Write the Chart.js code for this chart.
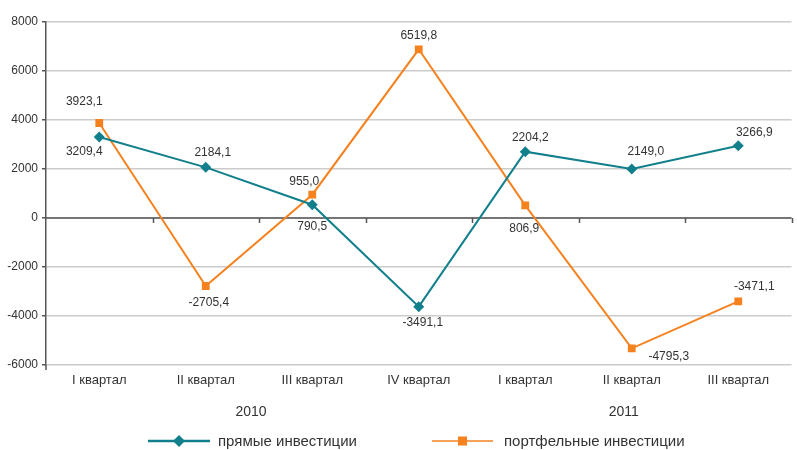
<!DOCTYPE html>
<html>
<head>
<meta charset="utf-8">
<script src="https://cdn.jsdelivr.net/npm/chart.js@4.4.1/dist/chart.umd.min.js"></script>
<style>
  html, body { margin: 0; padding: 0; background: #fff; }
  #wrap { width: 797px; height: 450px; }
</style>
</head>
<body>
<div id="wrap"><canvas id="grafico" width="797" height="450"></canvas></div>
<script>
// данные
const kvartaly = ['I квартал', 'II квартал', 'III квартал', 'IV квартал', 'I квартал', 'II квартал', 'III квартал'];
const gody = ['2010', '2011'];
const kvartalovVGodu = [4, 3];
const pryamye = [3306, 2068, 543, -3620, 2707, 2000, 2951];
const portfelnye = [3878, -2776, 951, 6886, 518, -5318, -3400];
const podpisiPryamye = ['3209,4', '2184,1', '790,5', '-3491,1', '2204,2', '2149,0', '3266,9'];
const podpisiPortfelnye = ['3923,1', '-2705,4', '955,0', '6519,8', '806,9', '-4795,3', '-3471,1'];

// смещения подписей (пиксели)
const smescheniyaPryamye = [[-15, 15], [7, -15], [0, 22], [4, 16], [5, -14], [14, -17], [16, -13]];
const smescheniyaPortfelnye = [[-15, -21], [3, 17], [-8, -13], [0, -14], [-1, 23], [37, 8], [16, -15]];

const TEAL = '#12808c';
const ORANGE = '#f5821f';
const TEXT = '#333333';
const FONT = '"Liberation Sans", Arial, sans-serif';

const podpisiPlugin = {
    id: 'podpisi',
    afterDatasetsDraw(chart) {
        const ctx = chart.ctx;
        ctx.save();
        ctx.font = '12px ' + FONT;
        ctx.fillStyle = TEXT;
        ctx.textAlign = 'center';
        ctx.textBaseline = 'middle';
        const nabory = [[podpisiPryamye, smescheniyaPryamye], [podpisiPortfelnye, smescheniyaPortfelnye]];
        nabory.forEach((n, di) => {
            const meta = chart.getDatasetMeta(di);
            meta.data.forEach((pt, i) => {
                ctx.fillText(n[0][i], pt.x + n[1][i][0], pt.y + n[1][i][1]);
            });
        });
        ctx.restore();
    }
};

const osiPlugin = {
    id: 'osi',
    beforeDatasetsDraw(chart) {
        const ctx = chart.ctx;
        const area = chart.chartArea;
        const y0 = chart.scales.y.getPixelForValue(0);
        ctx.save();
        // ось категорий на нуле
        ctx.strokeStyle = '#555555';
        ctx.lineWidth = 1.5;
        ctx.beginPath();
        ctx.moveTo(area.left, y0);
        ctx.lineTo(area.right, y0);
        const w = (area.right - area.left) / kvartaly.length;
        for (let i = 1; i <= kvartaly.length; i++) {
            const x = Math.round(area.left + w * i) + 0.5;
            ctx.moveTo(x, y0);
            ctx.lineTo(x, y0 + 5);
        }
        // продолжение оси Y вниз
        ctx.moveTo(area.left, area.bottom);
        ctx.lineTo(area.left, area.bottom + 5);
        ctx.stroke();
        ctx.restore();
    },
    afterDraw(chart) {
        const ctx = chart.ctx;
        const area = chart.chartArea;
        const w = (area.right - area.left) / kvartaly.length;
        ctx.save();
        ctx.font = '14px ' + FONT;
        ctx.fillStyle = TEXT;
        ctx.textAlign = 'center';
        ctx.textBaseline = 'middle';
        let start = 0;
        gody.forEach((g, i) => {
            const cx = area.left + w * (start + kvartalovVGodu[i] / 2) - 8;
            ctx.fillText(g, cx, 412);
            start += kvartalovVGodu[i];
        });

        // легенда
        const ly = 441;
        ctx.lineWidth = 2.5;
        ctx.strokeStyle = TEAL;
        ctx.beginPath();
        ctx.moveTo(148, ly);
        ctx.lineTo(210, ly);
        ctx.stroke();
        ctx.fillStyle = TEAL;
        ctx.beginPath();
        ctx.moveTo(179, ly - 6);
        ctx.lineTo(185, ly);
        ctx.lineTo(179, ly + 6);
        ctx.lineTo(173, ly);
        ctx.closePath();
        ctx.fill();

        ctx.strokeStyle = '#f7a25a';
        ctx.lineWidth = 2;
        ctx.beginPath();
        ctx.moveTo(432, ly);
        ctx.lineTo(493, ly);
        ctx.stroke();
        ctx.fillStyle = ORANGE;
        ctx.fillRect(458, ly - 4.5, 9, 9);

        ctx.fillStyle = TEXT;
        ctx.textAlign = 'left';
        ctx.font = '15px ' + FONT;
        ctx.fillText('прямые инвестиции', 218, ly + 1);
        ctx.fillText('портфельные инвестиции', 504, ly + 1);
        ctx.restore();
    }
};

const ctx = document.getElementById('grafico').getContext('2d');
const grafik = new Chart(ctx, {
    type: 'line',
    data: {
        labels: kvartaly,
        datasets: [{
            label: 'прямые инвестиции',
            data: pryamye,
            borderColor: TEAL,
            backgroundColor: TEAL,
            borderWidth: 2,
            pointStyle: 'rectRot',
            pointRadius: 5.5,
            pointBorderWidth: 0,
            tension: 0
        }, {
            label: 'портфельные инвестиции',
            data: portfelnye,
            borderColor: ORANGE,
            backgroundColor: ORANGE,
            borderWidth: 2,
            pointStyle: 'rect',
            pointRadius: 5.5,
            pointBorderWidth: 0,
            tension: 0
        }]
    },
    options: {
        responsive: false,
        animation: false,
        layout: { padding: { top: 22, right: 0, left: 0, bottom: 0 } },
        plugins: {
            legend: { display: false },
            tooltip: { enabled: false }
        },
        scales: {
            x: {
                offset: true,
                grid: { display: false },
                border: { display: false },
                ticks: {
                    color: TEXT,
                    font: { family: FONT, size: 13 },
                    padding: 0,
                    maxRotation: 0,
                    autoSkip: false
                },
                afterFit: s => { s.height = 85; }
            },
            y: {
                min: -6000,
                max: 8000,
                grid: {
                    color: '#cccccc',
                    lineWidth: 1.5,
                    drawTicks: true,
                    tickLength: 4,
                    tickColor: '#555555'
                },
                border: { display: true, color: '#555555', width: 1.5 },
                ticks: {
                    stepSize: 2000,
                    color: TEXT,
                    font: { family: FONT, size: 12 },
                    padding: 4,
                    callback: v => String(v)
                },
                afterFit: s => { s.width = 46; }
            }
        }
    },
    plugins: [osiPlugin, podpisiPlugin]
});
</script>
</body>
</html>
